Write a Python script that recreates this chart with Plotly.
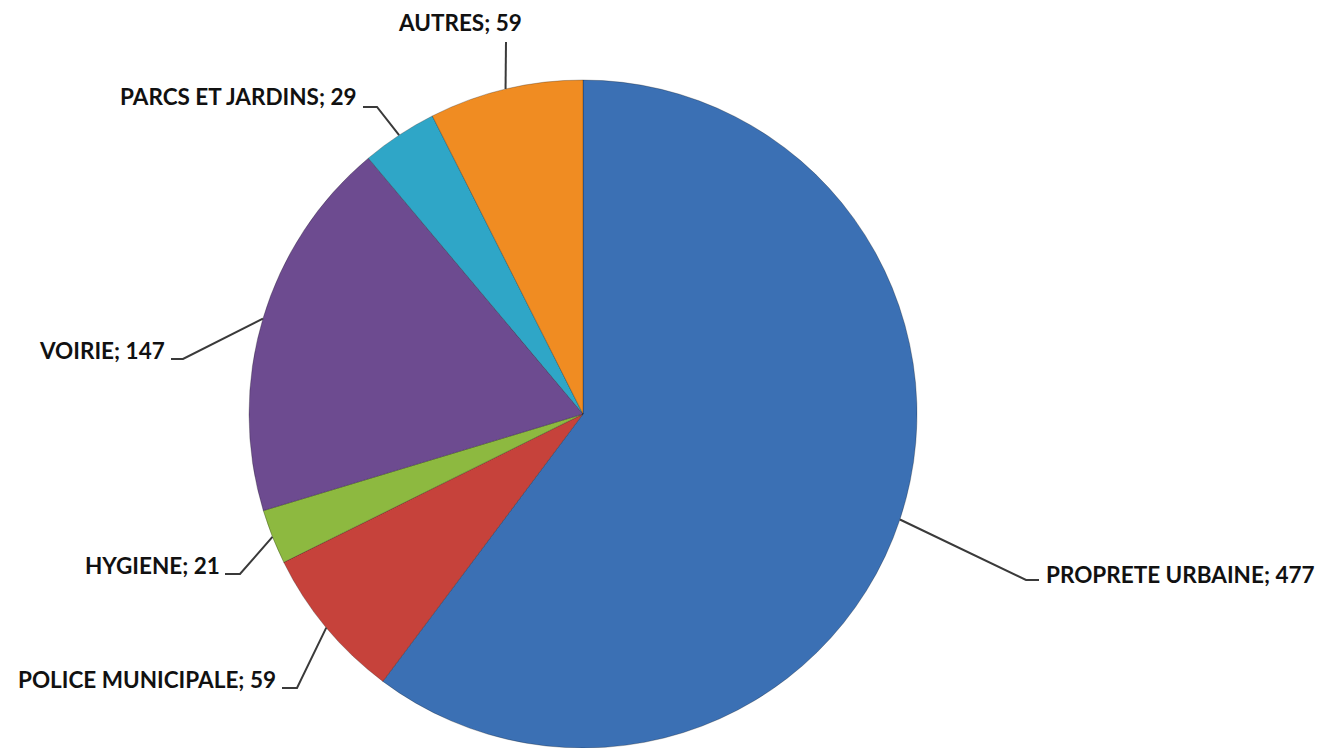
import math
import plotly.graph_objects as go

# ---- data ----
categories = ["PROPRETE URBAINE", "POLICE MUNICIPALE", "HYGIENE", "VOIRIE",
              "PARCS ET JARDINS", "AUTRES"]
values = [477, 59, 21, 147, 29, 59]
colors = ["#3B70B4", "#C6423B", "#8DB940", "#6D4B90", "#2FA6C7", "#F08C22"]

# ---- layout / style ----
W, H = 1322, 748
CX, CY, R = 583, 414, 334  # pie centre and radius in pixels

# label placement (pixels): elbow point, end of horizontal tick, text anchor
label_style = {
    "PROPRETE URBAINE":  dict(elbow=(1026, 580), end=(1039, 580), text=(1044, 574), anchor="left"),
    "POLICE MUNICIPALE": dict(elbow=(297, 688), end=(282, 688), text=(278, 679), anchor="right"),
    "HYGIENE":           dict(elbow=(240, 574), end=(225, 574), text=(222, 565), anchor="right"),
    "VOIRIE":            dict(elbow=(183, 359), end=(171, 359), text=(167, 350), anchor="right"),
    "PARCS ET JARDINS":  dict(elbow=(377, 107), end=(363, 107), text=(359, 97), anchor="right"),
    "AUTRES":            dict(elbow=None, end=(506, 42), text=(460, 22), anchor="center"),
}

FONT = "Lato, sans-serif"


def px(x, y):
    return x / W, 1 - y / H


fig = go.Figure(go.Pie(
    labels=categories,
    values=values,
    sort=False,
    direction="clockwise",
    rotation=0,
    marker=dict(colors=colors, line=dict(color="rgba(0,0,0,0.25)", width=1)),
    textinfo="none",
    hoverinfo="label+value",
    domain=dict(x=[(CX - R) / W, (CX + R) / W], y=[1 - (CY + R) / H, 1 - (CY - R) / H]),
    showlegend=False,
))

total = sum(values)
cum = 0
shapes = []
annotations = []
for cat, v in zip(categories, values):
    mid = (cum + v / 2) / total * 2 * math.pi
    cum += v
    ex = CX + R * math.sin(mid)
    ey = CY - R * math.cos(mid)
    st = label_style[cat]
    pts = [(ex, ey)]
    if st["elbow"] is not None:
        pts.append(st["elbow"])
    pts.append(st["end"])
    path = "M " + " L ".join("%.5f,%.5f" % px(x, y) for x, y in pts)
    shapes.append(dict(type="path", path=path, xref="paper", yref="paper",
                       line=dict(color="#3A3A3A", width=2)))
    tx, ty = px(*st["text"])
    annotations.append(dict(
        x=tx, y=ty, xref="paper", yref="paper",
        text="<b>%s; %d</b>" % (cat, v), showarrow=False,
        xanchor=st["anchor"], yanchor="middle",
        font=dict(family=FONT, size=22.5, color="#111111"),
    ))

fig.update_layout(
    width=W, height=H,
    margin=dict(l=0, r=0, t=0, b=0),
    paper_bgcolor="white",
    plot_bgcolor="white",
    shapes=shapes,
    annotations=annotations,
)

fig.write_html("out.html")
